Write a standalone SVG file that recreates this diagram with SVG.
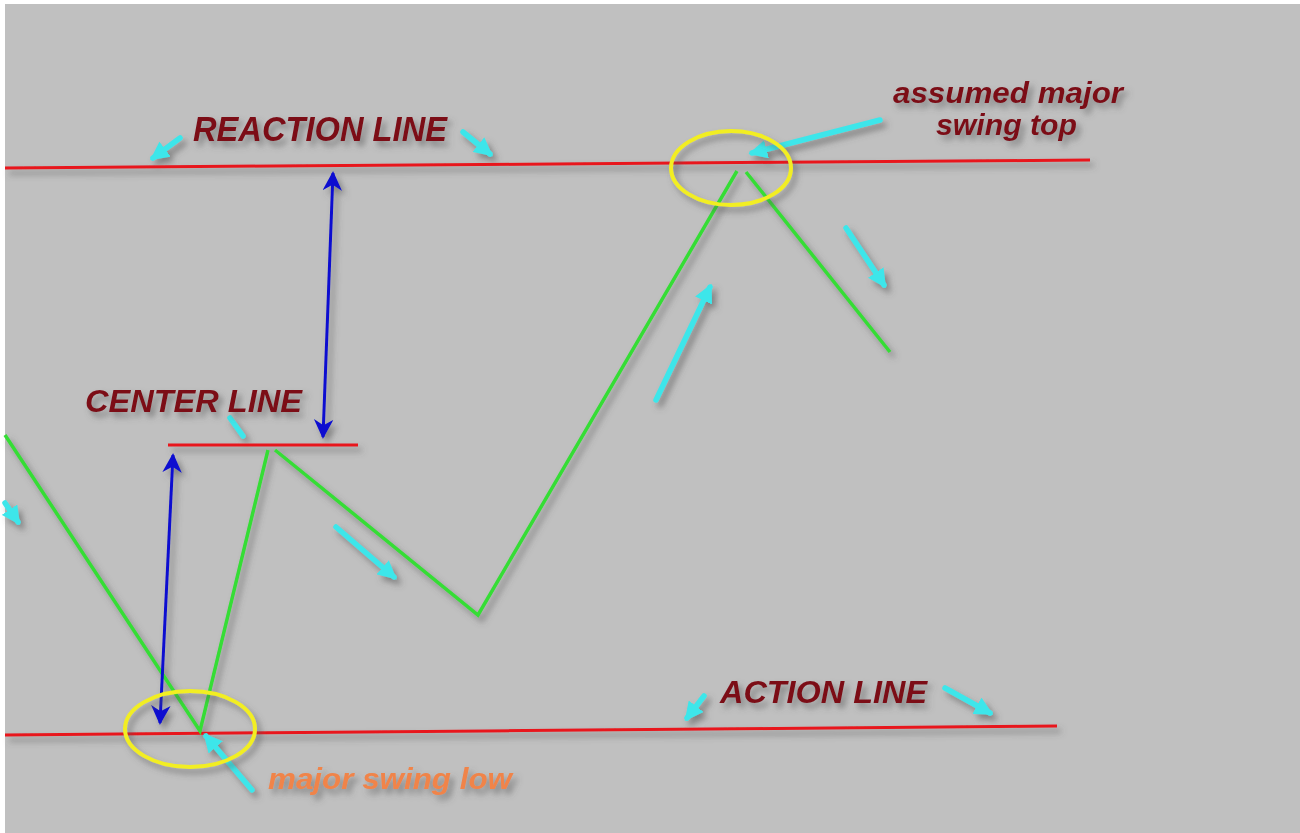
<svg xmlns="http://www.w3.org/2000/svg" width="1300" height="833" viewBox="0 0 1300 833">
<defs>
<filter id="sh" x="-20%" y="-20%" width="140%" height="160%">
<feDropShadow dx="4" dy="5" stdDeviation="3" flood-color="#555" flood-opacity="0.6"/>
</filter>
<marker id="cy" viewBox="0 0 10 10" refX="8" refY="5" markerWidth="3.4" markerHeight="3.4" orient="auto">
<path d="M0,0 L10,5 L0,10 z" fill="#3ee6ea"/>
</marker>
<marker id="bl" viewBox="0 0 10 10" refX="9" refY="5" markerWidth="6.5" markerHeight="6.5" orient="auto-start-reverse">
<path d="M0,0 L10,5 L0,10 L3,5 z" fill="#0a10d0"/>
</marker>
<style>
.red{stroke:#e8141c;stroke-width:3;fill:none}
.grn{stroke:#35dd35;stroke-width:3.5;fill:none}
.blu{stroke:#0a10d0;stroke-width:3;fill:none}
.cy{stroke:#3ee6ea;stroke-width:5.5;fill:none;stroke-linecap:round}
.yel{stroke:#f2ee22;stroke-width:4;fill:none}
.lbl{font-family:"Liberation Sans",Arial,sans-serif;font-weight:bold;font-style:italic;fill:#7c0c18}
.org{font-family:"Liberation Sans",Arial,sans-serif;font-weight:bold;font-style:italic;fill:#f0844a}
</style>
</defs>
<rect width="1300" height="833" fill="#ffffff"/>
<rect x="5" y="4" width="1295" height="829" fill="#c0c0c0"/>

<g id="connectors" filter="url(#sh)">
<g id="reaction-line"><line class="red" x1="5" y1="168" x2="1090" y2="160"/></g>
<g id="center-line"><line class="red" x1="168" y1="445" x2="358" y2="445"/></g>
<g id="action-line"><line class="red" x1="5" y1="735" x2="1057" y2="726"/></g>
<g id="price-swings">
<polyline class="grn" points="5,435 200,731 268,450"/>
<polyline class="grn" points="275,450 478,615 737,171"/>
<line class="grn" x1="746" y1="172" x2="890" y2="352"/>
</g>
<g id="blue-arrows">
<line class="blu" x1="333" y1="173" x2="323" y2="437" marker-start="url(#bl)" marker-end="url(#bl)"/>
<line class="blu" x1="173" y1="455" x2="160" y2="723" marker-start="url(#bl)" marker-end="url(#bl)"/>
</g>
<g id="cyan-arrows">
<line class="cy" x1="180" y1="138" x2="153" y2="158" marker-end="url(#cy)"/>
<line class="cy" x1="463" y1="132" x2="490" y2="154" marker-end="url(#cy)"/>
<line class="cy" x1="880" y1="120" x2="752" y2="153" marker-end="url(#cy)"/>
<line class="cy" x1="230" y1="418" x2="243" y2="436"/>
<line class="cy" x1="5" y1="503" x2="18" y2="522" marker-end="url(#cy)"/>
<line class="cy" x1="336" y1="527" x2="394" y2="577" marker-end="url(#cy)"/>
<line class="cy" x1="656" y1="400" x2="710" y2="287" marker-end="url(#cy)"/>
<line class="cy" x1="846" y1="228" x2="884" y2="285" marker-end="url(#cy)"/>
<line class="cy" x1="704" y1="696" x2="687" y2="718" marker-end="url(#cy)"/>
<line class="cy" x1="945" y1="688" x2="990" y2="713" marker-end="url(#cy)"/>
<line class="cy" x1="252" y1="790" x2="206" y2="736" marker-end="url(#cy)"/>
</g>
</g>

<g id="swing-top-circle" filter="url(#sh)"><ellipse class="yel" cx="731" cy="168" rx="60" ry="37"/></g>
<g id="swing-low-circle" filter="url(#sh)"><ellipse class="yel" cx="190" cy="729" rx="65" ry="38"/></g>

<g id="label-reaction" filter="url(#sh)"><text class="lbl" x="193" y="141" font-size="35" textLength="254" lengthAdjust="spacingAndGlyphs">REACTION LINE</text></g>
<g id="label-center" filter="url(#sh)"><text class="lbl" x="85" y="412" font-size="32" textLength="217" lengthAdjust="spacingAndGlyphs">CENTER LINE</text></g>
<g id="label-action" filter="url(#sh)"><text class="lbl" x="720" y="703" font-size="32" textLength="207" lengthAdjust="spacingAndGlyphs">ACTION LINE</text></g>
<g id="label-swing-top" filter="url(#sh)">
<text class="lbl" x="893" y="103" font-size="30" textLength="230" lengthAdjust="spacingAndGlyphs">assumed major</text>
<text class="lbl" x="936" y="135" font-size="30" textLength="141" lengthAdjust="spacingAndGlyphs">swing top</text>
</g>
<g id="label-swing-low" filter="url(#sh)"><text class="org" x="268" y="789" font-size="30" textLength="244" lengthAdjust="spacingAndGlyphs">major swing low</text></g>
</svg>
